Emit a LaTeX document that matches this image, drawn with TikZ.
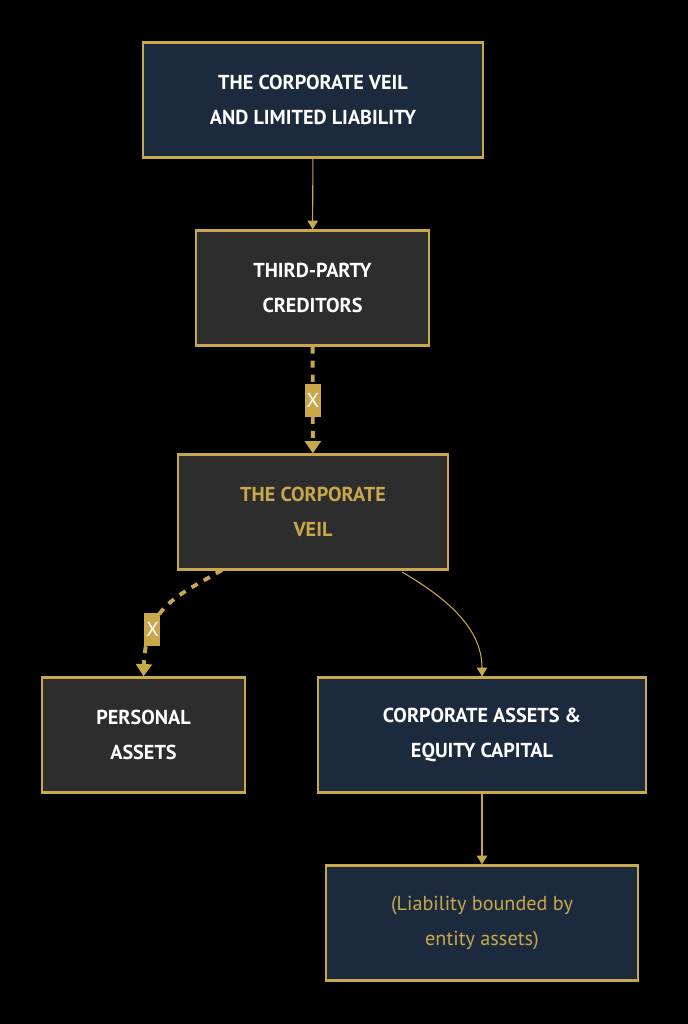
\documentclass[tikz,border=0pt]{standalone}
\usepackage{fontspec}
\setmainfont{PT Sans}
\usetikzlibrary{arrows.meta}
\definecolor{gold}{HTML}{C9A84C}
\definecolor{navy}{HTML}{1C2A3E}
\definecolor{charcoal}{HTML}{2D2D2D}
\tikzset{
  box/.style={draw=gold, line width=1.3pt, minimum height=2.3cm, align=center,
    font=\fontsize{11.5}{20}\selectfont\bfseries, text=white},
  navybox/.style={box, fill=navy},
  greybox/.style={box, fill=charcoal},
  link/.style={draw=gold, line width=0.6pt, -{Triangle[length=5pt,width=6pt]}},
  cut/.style={draw=gold, line width=2.2pt, dash pattern=on 4pt off 4pt, -{Triangle[length=7pt,width=9pt]}},
  xmark/.style={fill=gold, text=white, inner sep=1pt, minimum height=0.66cm,
    font=\fontsize{11.5}{12}\selectfont}
}
\begin{document}
\begin{tikzpicture}[x=0.02cm,y=-0.02cm]
\fill[black] (0,0) rectangle (688,1024);

% nodes
\node[navybox, minimum width=6.8cm] (veilLL) at (313,100) {THE CORPORATE VEIL\\AND LIMITED LIABILITY};
\node[greybox, minimum width=4.66cm] (creditors) at (312.5,288) {THIRD-PARTY\\CREDITORS};
\node[greybox, minimum width=5.4cm, text=gold] (veil) at (313,512) {THE CORPORATE\\VEIL};
\node[greybox, minimum width=4.06cm] (personal) at (143.5,735) {PERSONAL\\ASSETS};
\node[navybox, minimum width=6.56cm] (corpassets) at (482,735) {CORPORATE ASSETS \&\\EQUITY CAPITAL};
\node[navybox, minimum width=6.24cm, text=gold, font=\fontsize{11.5}{20}\selectfont] (bounded) at (482,923) {(Liability bounded by\\entity assets)};

% connectors
\draw[link] (veilLL) -- (creditors);
\draw[cut] (creditors) -- node[xmark] {X} (veil);
\draw[cut] (222,570) .. controls (180,595) and (146,605) .. node[xmark, pos=0.72] {X} (personal.north);
\draw[link] (402,572) .. controls (450,600) and (482,630) .. (corpassets.north);
\draw[link] (corpassets) -- (bounded);
\end{tikzpicture}
\end{document}
